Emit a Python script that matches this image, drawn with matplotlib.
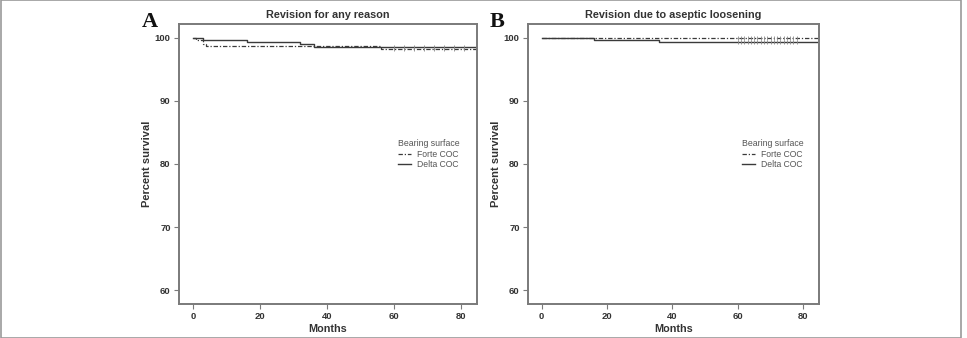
import matplotlib

matplotlib.use("Agg")

import matplotlib.pyplot as plt  # noqa: E402
from matplotlib.lines import Line2D  # noqa: E402
from matplotlib.patches import Rectangle  # noqa: E402

plt.rcParams["font.family"] = ["Liberation Sans", "DejaVu Sans"]

# Kaplan-Meier step data (months, percent survival)
a_forte_t = [0, 1, 3, 4, 56, 85]
a_forte_s = [100, 99.6, 99.1, 98.7, 98.3, 98.3]
a_delta_t = [0, 3, 16, 32, 36, 56, 85]
a_delta_s = [100, 99.7, 99.3, 99.0, 98.6, 98.5, 98.5]
a_censor_t = [60, 63, 66, 69, 72, 75, 78, 81]

b_forte_t = [0, 85]
b_forte_s = [100, 100]
b_delta_t = [0, 16, 36, 85]
b_delta_s = [100, 99.7, 99.3, 99.3]
b_censor_t = [60, 61, 62, 63, 64, 65, 66, 67, 68, 69, 70, 71, 72, 73, 74, 75, 76, 77, 78]

titles = ["Revision for any reason", "Revision due to aseptic loosening"]
panel_letters = ["A", "B"]
series_names = ["Forte COC", "Delta COC"]
x_ticks = [0, 20, 40, 60, 80]
y_ticks = [60, 70, 80, 90, 100]

LINE = "#3a3a3a"
SPINE = "#7a7a7a"
TEXT = "#333333"
FORTE_LS = (0, (3.5, 1.5, 1, 1.5))


def step_value(ts, ss, t):
    v = ss[0]
    for ti, si in zip(ts, ss):
        if ti <= t:
            v = si
    return v


fig = plt.figure(figsize=(9.67, 3.38), dpi=100)
fig.patches.append(Rectangle((0.001, 0.0), 0.993, 0.999, transform=fig.transFigure,
                             fill=False, edgecolor="#9a9a9a", linewidth=1.2))

positions = [[0.1851, 0.1006, 0.3082, 0.8284], [0.546, 0.1006, 0.3009, 0.8284]]
letter_x = [0.147, 0.506]
data = [
    (a_forte_t, a_forte_s, a_delta_t, a_delta_s, a_censor_t),
    (b_forte_t, b_forte_s, b_delta_t, b_delta_s, b_censor_t),
]

for i, pos in enumerate(positions):
    ax = fig.add_axes(pos)
    ft, fs, dt, ds, ct = data[i]
    ax.step(ft, fs, where="post", color=LINE, lw=0.9, linestyle=FORTE_LS)
    ax.step(dt, ds, where="post", color=LINE, lw=1.0)
    # censoring marks
    ax.plot(ct, [step_value(ft, fs, t) for t in ct], linestyle="none",
            marker="|", markersize=3, color="#888888", mew=0.6)
    ax.plot(ct, [step_value(dt, ds, t) for t in ct], linestyle="none",
            marker="|", markersize=3, color="#888888", mew=0.6)

    ax.set_xlim(-4.2, 84.8)
    ax.set_ylim(57.8, 102.2)
    ax.set_xticks(x_ticks)
    ax.set_yticks(y_ticks)
    ax.tick_params(axis="both", direction="out", length=3.5, width=0.8,
                   color=SPINE, labelsize=6.8, pad=2.5, labelcolor=TEXT)
    for lab in ax.get_xticklabels() + ax.get_yticklabels():
        lab.set_fontweight("bold")
    for sp in ax.spines.values():
        sp.set_color(SPINE)
        sp.set_linewidth(1.4)
    ax.set_title(titles[i], fontsize=7.8, fontweight="bold", color=TEXT, pad=4)
    ax.set_xlabel("Months", fontsize=7.8, fontweight="bold", color=TEXT, labelpad=2)
    ax.set_ylabel("Percent survival", fontsize=8, fontweight="bold",
                  color=TEXT, labelpad=2)

    handles = [
        Line2D([], [], color=LINE, lw=0.9, linestyle=FORTE_LS),
        Line2D([], [], color=LINE, lw=1.0),
    ]
    leg = ax.legend(handles, series_names, title="Bearing surface", loc="upper left",
                    bbox_to_anchor=(0.72, 0.605), frameon=False, fontsize=6.2,
                    title_fontsize=6.3, handlelength=1.5, handletextpad=0.7,
                    labelspacing=0.2, borderpad=0)
    for txt in leg.get_texts():
        txt.set_color("#555555")
    leg.get_title().set_color("#555555")
    leg._legend_box.align = "left"

    fig.text(letter_x[i], 0.935, panel_letters[i], fontsize=16, fontweight="bold",
             family="Liberation Serif", ha="left", va="center", color="#111111")

fig.savefig("out.png", dpi=100)
plt.close(fig)
